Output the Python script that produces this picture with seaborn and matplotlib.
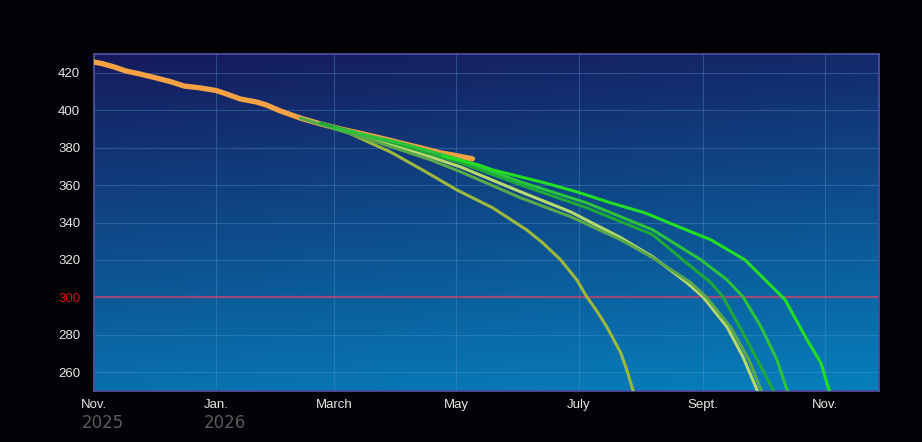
import numpy as np
import pandas as pd
import matplotlib
matplotlib.use('Agg')
import matplotlib.pyplot as plt
import matplotlib.dates as mdates
import matplotlib.transforms as mtransforms
import seaborn as sns

# observed track
obs_dates = ['2025-11-01', '2025-11-05', '2025-11-11', '2025-11-17', '2025-11-24', '2025-12-01',
             '2025-12-09', '2025-12-16', '2025-12-24', '2026-01-01', '2026-01-06', '2026-01-13',
             '2026-01-21', '2026-01-26', '2026-02-02', '2026-02-12', '2026-02-22', '2026-03-04',
             '2026-03-14', '2026-03-25', '2026-04-03', '2026-04-13', '2026-04-23', '2026-04-30',
             '2026-05-09']
obs_values = [425.7, 424.9, 423.1, 420.9, 419.3, 417.5, 415.3, 412.9, 411.9, 410.5, 408.7, 406.0,
              404.4, 402.8, 399.6, 395.8, 392.7, 390.0, 387.6, 384.9, 382.5, 379.9, 377.2, 375.9,
              374.0]

# projections
proj_a_dates = ['2026-02-12', '2026-03-04', '2026-03-19', '2026-03-29', '2026-04-14', '2026-05-01',
                '2026-05-19', '2026-06-05', '2026-06-13', '2026-06-22', '2026-06-30', '2026-07-05',
                '2026-07-10', '2026-07-15', '2026-07-22', '2026-07-25', '2026-07-28', '2026-07-30']
proj_a_values = [395.8, 390.0, 382.5, 377.7, 368.1, 357.5, 347.9, 336.1, 329.2, 320.1, 309.5, 300.4,
                 292.9, 284.4, 270.5, 261.5, 250.8, 245.5]

proj_b_dates = ['2026-02-12', '2026-03-19', '2026-04-18', '2026-05-03', '2026-06-02', '2026-06-27',
                '2026-07-22', '2026-08-07', '2026-08-24', '2026-09-01', '2026-09-13', '2026-09-21',
                '2026-09-28', '2026-09-30']
proj_b_values = [395.8, 385.2, 375.1, 369.7, 356.4, 345.7, 331.9, 321.7, 307.9, 300.4, 284.4, 268.4,
                 250.8, 245.5]

proj_c_dates = ['2026-02-12', '2026-03-19', '2026-04-18', '2026-05-03', '2026-06-02', '2026-06-27',
                '2026-07-22', '2026-08-07', '2026-08-26', '2026-09-03', '2026-09-15', '2026-09-24',
                '2026-09-30', '2026-10-02']
proj_c_values = [395.8, 384.1, 373.5, 367.1, 353.2, 343.1, 330.8, 321.2, 307.9, 299.9, 283.9, 266.8,
                 250.8, 245.5]

proj_d_dates = ['2026-02-22', '2026-04-03', '2026-05-03', '2026-06-02', '2026-07-05', '2026-08-07',
                '2026-08-22', '2026-09-05', '2026-09-11', '2026-09-21', '2026-09-30', '2026-10-06',
                '2026-10-08']
proj_d_values = [393.2, 381.5, 371.9, 360.1, 347.9, 333.5, 320.1, 307.9, 300.4, 281.2, 263.1, 250.8,
                 245.5]

proj_e_dates = ['2026-03-01', '2026-04-03', '2026-05-03', '2026-06-02', '2026-07-05', '2026-08-07',
                '2026-08-31', '2026-09-13', '2026-09-21', '2026-09-30', '2026-10-08', '2026-10-13',
                '2026-10-15']
proj_e_values = [390.5, 382.5, 373.5, 361.7, 350.5, 336.1, 320.1, 309.5, 300.4, 284.4, 266.8, 250.8,
                 245.5]

proj_f_dates = ['2026-04-24', '2026-05-12', '2026-05-19', '2026-06-02', '2026-06-14', '2026-06-30',
                '2026-07-17', '2026-08-03', '2026-08-20', '2026-09-05', '2026-09-22', '2026-10-02',
                '2026-10-12', '2026-10-23', '2026-10-30', '2026-11-03', '2026-11-04']
proj_f_values = [375.6, 370.8, 368.1, 364.4, 361.2, 356.4, 350.5, 345.2, 337.7, 330.8, 320.1, 309.5,
                 298.9, 277.5, 265.0, 250.8, 245.5]

month_ticks = ['2025-11-01', '2026-01-01', '2026-03-01', '2026-05-01', '2026-07-01', '2026-09-01',
               '2026-11-01']
month_labels = ['Nov.', 'Jan.', 'March', 'May', 'July', 'Sept.', 'Nov.']
year_labels = {'2025-11-01': '2025', '2026-01-01': '2026'}
y_ticks = [260, 280, 300, 320, 340, 360, 380, 400, 420]
limit_value = 300

series = [
    (proj_a_dates, proj_a_values, '#9db83c'),
    (proj_b_dates, proj_b_values, '#b8da6c'),
    (proj_c_dates, proj_c_values, '#5aa84c'),
    (proj_d_dates, proj_d_values, '#1fa83a'),
    (proj_e_dates, proj_e_values, '#2cc23c'),
    (proj_f_dates, proj_f_values, '#24de24'),
]

sns.set_style('dark')
plt.rcParams['font.family'] = ['Liberation Sans', 'DejaVu Sans']

fig = plt.figure(figsize=(9.22, 4.42), dpi=100, facecolor='#030307')
ax = fig.add_axes([94 / 922, 51 / 442, 785 / 922, 337 / 442])

# background gradient (dark navy top -> teal blue bottom)
ny, nx = 200, 200
yy, xx = np.mgrid[0:1:ny * 1j, 0:1:nx * 1j]
t = np.clip(0.85 * yy + 0.15 * xx, 0, 1)
top = np.array([22, 26, 92]) / 255
bottom = np.array([6, 128, 188]) / 255
grad = top[None, None, :] * (1 - t[..., None]) + bottom[None, None, :] * t[..., None]
ax.imshow(grad, extent=[0, 1, 0, 1], transform=ax.transAxes, aspect='auto', zorder=0)

df_obs = pd.DataFrame({'date': pd.to_datetime(obs_dates), 'value': obs_values})
sns.lineplot(data=df_obs, x='date', y='value', color='#f5a244', linewidth=3.8, ax=ax, zorder=3,
             solid_capstyle='round', solid_joinstyle='round')

for d, v, c in series:
    df = pd.DataFrame({'date': pd.to_datetime(d), 'value': v})
    sns.lineplot(data=df, x='date', y='value', color=c, linewidth=2.2, ax=ax, zorder=4,
                 solid_joinstyle='round')

ax.axhline(limit_value, color='#c8406a', alpha=0.75, linewidth=1.6, zorder=2)

ax.set_xlim(pd.Timestamp('2025-11-01'), pd.Timestamp('2026-11-28'))
ax.set_ylim(250, 430)
ax.set_xticks(pd.to_datetime(month_ticks))
ax.set_xticklabels(month_labels)
ax.set_yticks(y_ticks)
ax.set_yticklabels([str(v) for v in y_ticks])
ax.set_xlabel('')
ax.set_ylabel('')

ax.grid(True, color='#5a9ad0', alpha=0.35, linewidth=0.8, zorder=1)
for line in ax.get_xgridlines() + ax.get_ygridlines():
    line.set_zorder(1)

ax.tick_params(axis='both', length=0, colors='#e6e6e6', labelsize=9.5)
ax.tick_params(axis='y', pad=10)
ax.tick_params(axis='x', pad=6)
for lab in ax.get_yticklabels():
    if lab.get_text() == str(limit_value):
        lab.set_color('#e01010')

for s in ax.spines.values():
    s.set_visible(True)
    s.set_color('#4c4ca0')
    s.set_linewidth(1.3)

trans = mtransforms.blended_transform_factory(ax.transData, ax.transAxes)
for d, txt in year_labels.items():
    ax.text(mdates.date2num(pd.Timestamp(d)) - 6, -0.068, txt, transform=trans, ha='left', va='top',
            color='#5a5a5a', fontsize=12, fontfamily='DejaVu Sans')

fig.savefig('out.png', dpi=100, facecolor=fig.get_facecolor())
